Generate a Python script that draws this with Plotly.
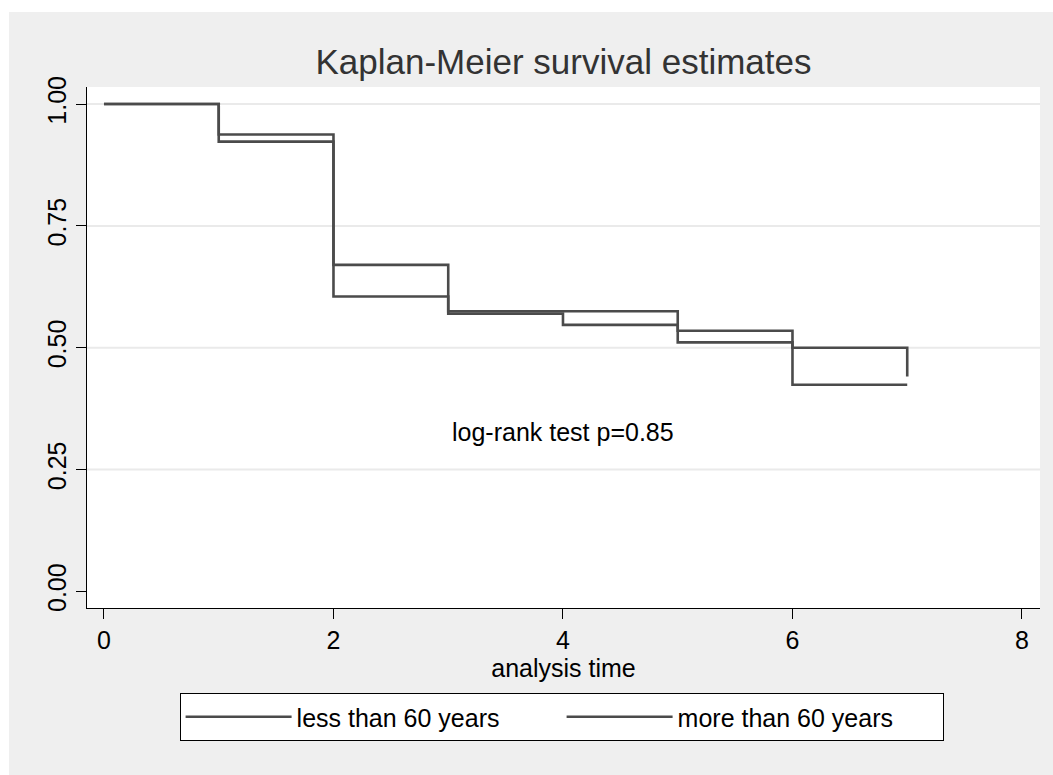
import plotly.graph_objects as go

# Kaplan-Meier step estimates by age group
time = [0, 1, 2, 3, 4, 5, 6, 7]
surv_under60 = [1.0, 0.9375, 0.670, 0.575, 0.575, 0.535, 0.500, 0.441]
surv_over60 = [1.0, 0.923, 0.605, 0.570, 0.547, 0.511, 0.424, 0.424]
group_names = ["less than 60 years", "more than 60 years"]

x_ticks = [0, 2, 4, 6, 8]
y_ticks = [0.0, 0.25, 0.5, 0.75, 1.0]
y_tick_text = ["0.00", "0.25", "0.50", "0.75", "1.00"]

W, H = 1053, 775
ML, MR, MT, MB = 87, 13, 87, 167
plot_w = W - ML - MR
plot_h = H - MT - MB

line_col = "#4b4b4b"
font_family = "Liberation Sans, Arial, sans-serif"

fig = go.Figure()
for name, surv in zip(group_names, [surv_under60, surv_over60]):
    fig.add_trace(go.Scatter(
        x=time, y=surv, name=name, mode="lines",
        line=dict(color=line_col, width=2.6, shape="hv"),
    ))

fig.add_annotation(
    x=4, y=0.327, xref="x", yref="y", text="log-rank test p=0.85",
    showarrow=False, font=dict(size=25, color="black", family=font_family),
)

def px_to_paper_x(px):
    return (px - ML) / plot_w

def px_to_paper_y(py):
    return (H - MB - py) / plot_h

# outer graph region (light grey) with a thin white border at top/left
fig.add_shape(type="rect", xref="paper", yref="paper", layer="below",
              x0=px_to_paper_x(9), x1=px_to_paper_x(W + 5),
              y0=px_to_paper_y(H + 5), y1=px_to_paper_y(12),
              fillcolor="#efefef", line=dict(width=0))
fig.add_shape(type="rect", xref="paper", yref="paper", layer="below",
              x0=0, x1=1, y0=0, y1=1,
              fillcolor="white", line=dict(width=0))

# horizontal grid at the non-zero y ticks
for yv in y_ticks:
    if yv > 0:
        fig.add_shape(type="line", xref="paper", yref="y", layer="below",
                      x0=0, x1=1, y0=yv, y1=yv,
                      line=dict(color="#eaeaea", width=2))

fig.update_layout(
    width=W, height=H,
    margin=dict(l=ML, r=MR, t=MT, b=MB),
    paper_bgcolor="white", plot_bgcolor="white",
    font=dict(family=font_family, color="black", size=25),
    title=dict(text="Kaplan-Meier survival estimates", x=(ML + plot_w / 2) / W,
               xanchor="center", y=1 - 62 / H, yanchor="middle",
               font=dict(size=35, color="#333333", family=font_family)),
    showlegend=True,
    legend=dict(orientation="h", x=0.498, xanchor="center",
                y=px_to_paper_y(693), yanchor="top",
                bgcolor="white", bordercolor="black", borderwidth=1,
                font=dict(size=25, color="black", family=font_family),
                itemwidth=106, entrywidth=260, entrywidthmode="pixels"),
    xaxis=dict(range=[-0.148, 8.157], tickvals=x_ticks, ticks="outside",
               ticklen=10, tickcolor="black", tickwidth=1,
               showline=True, linecolor="black", linewidth=1,
               showgrid=False, zeroline=False,
               tickfont=dict(size=25),
               title=dict(text="analysis time", standoff=0,
                          font=dict(size=25))),
    yaxis=dict(range=[-0.034, 1.035], tickvals=y_ticks, ticktext=y_tick_text,
               tickangle=-90, ticks="outside", ticklen=10, tickcolor="black",
               tickwidth=1, showline=True, linecolor="black", linewidth=1,
               showgrid=False, zeroline=False, tickfont=dict(size=25)),
)

fig.write_html("out.html")
